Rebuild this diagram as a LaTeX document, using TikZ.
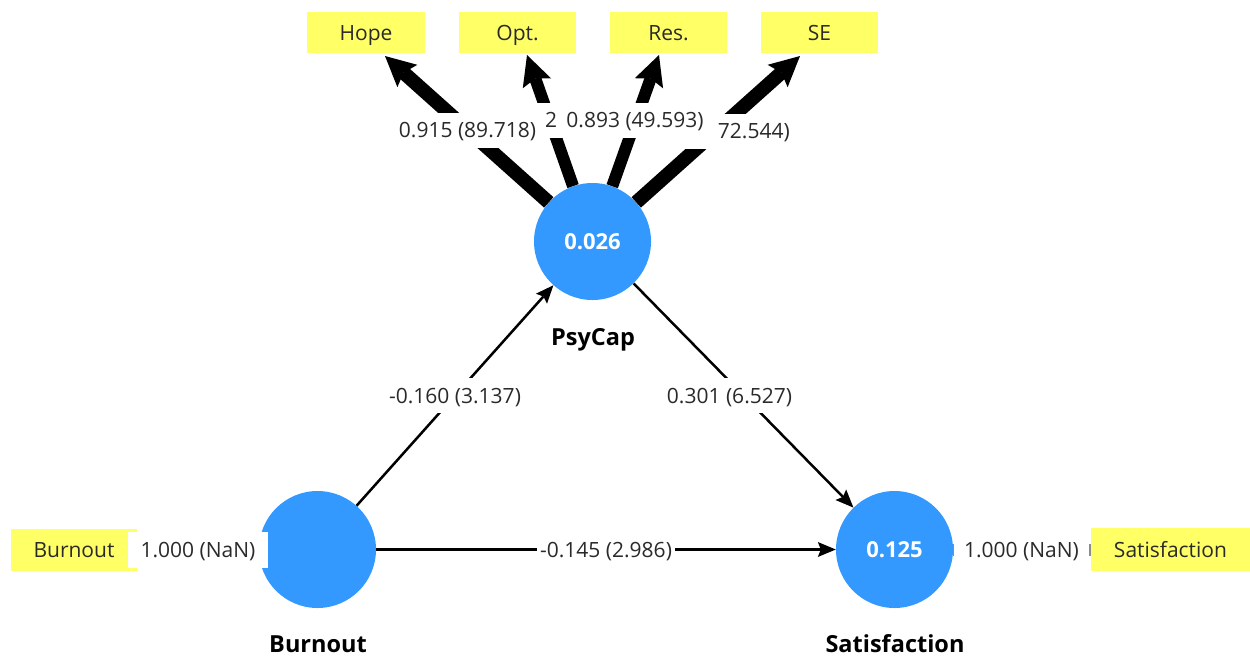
\documentclass[tikz,border=0pt]{standalone}
\usepackage{fontspec}
\setmainfont{Open Sans}
\usetikzlibrary{arrows.meta}
\definecolor{nodeblue}{HTML}{3399FF}
\definecolor{indyellow}{HTML}{FFFF66}
\definecolor{labgray}{HTML}{2A2A2A}
\begin{document}
\begin{tikzpicture}[x=1pt,y=-1pt,
  construct/.style={circle, fill=nodeblue, minimum size=117pt, inner sep=0pt, text=white, font=\fontsize{22}{26}\selectfont\bfseries, text height=15.5pt, text depth=0pt},
  indicator/.style={fill=indyellow, minimum height=41pt, inner sep=0pt, text=labgray, font=\fontsize{21}{25}\selectfont, text height=15pt, text depth=0pt},
  cname/.style={font=\fontsize{23.5}{28}\selectfont\bfseries, text=black, text height=17pt, text depth=0pt},
  elabel/.style={fill=white, text=labgray, font=\fontsize{21}{25}\selectfont, inner xsep=3pt, inner ysep=0pt, minimum height=35pt, text height=15pt, text depth=0pt},
  thickarrow/.style={line width=13pt, -{Stealth[length=30pt,width=30pt,inset=5pt,line width=0pt]}},
  thinarrow/.style={line width=2.5pt, -{Stealth[length=18pt,width=15pt,inset=3pt,line width=0pt]}},
  oneline/.style={line width=12pt, draw=black!45}]
\useasboundingbox (0,0) rectangle (1250,657);
% constructs
\node[construct] (psy) at (592.5,241.5) {0.026};
\node[construct] (burn) at (317.5,549.5) {};
\node[construct] (sat) at (894.5,549.5) {0.125};
\node[cname] (psyname) at (593,337) {PsyCap};
\node[cname] (burnname) at (318,644) {Burnout};
\node[cname] (satname) at (895,644) {Satisfaction};
% indicators
\node[indicator, minimum width=118pt] (hope) at (366,32.5) {Hope};
\node[indicator, minimum width=117pt] (opt) at (517.5,32.5) {Opt.};
\node[indicator, minimum width=117pt] (res) at (668.5,32.5) {Res.};
\node[indicator, minimum width=117pt] (se) at (819.5,32.5) {SE};
\node[indicator, minimum width=126pt, minimum height=42pt] (burnind) at (74,550) {Burnout};
\node[indicator, minimum width=159pt, minimum height=43pt] (satind) at (1170.5,549.5) {Satisfaction};
% arrow tips
\coordinate (hopetip) at (385,56);
\coordinate (opttip) at (527,55);
\coordinate (restip) at (659,55);
\coordinate (setip) at (800,56);
% outer loadings
\draw[thickarrow, line width=14pt] (psy) -- (hopetip);
\draw[thickarrow, line width=12pt] (psy) -- (opttip);
\draw[thickarrow, line width=12pt] (psy) -- (restip);
\draw[thickarrow, line width=14pt] (psy) -- (setip);
\node[elabel, minimum width=30pt] (optlab) at (551,120) {2};
\node[elabel] (hopelab) at (467.5,130) {0.915 (89.718)};
\node[elabel, anchor=east] (selab) at (793,131) {\makebox[142pt][r]{72.544)}};
\node[elabel] (reslab) at (635,120) {0.893 (49.593)};
% single indicators
\draw[oneline] (burnind) -- (burn);
\node[elabel, minimum width=140pt, minimum height=36pt] (burnlab) at (198,550) {1.000 (NaN)};
\draw[oneline] (sat) -- (satind);
\node[elabel, minimum width=135pt, minimum height=36pt] (satlab) at (1021.5,550) {1.000 (NaN)};
% structural paths
\draw[thinarrow] (burn) -- (psy) node[elabel, pos=0.5] (bplab) {-0.160 (3.137)};
\draw[thinarrow] (psy) -- (sat) node[elabel, pos=0.5, xshift=-14pt] (pslab) {0.301 (6.527)};
\draw[thinarrow] (burn) -- (sat) node[elabel, pos=0.5] (bslab) {-0.145 (2.986)};
\end{tikzpicture}
\end{document}
